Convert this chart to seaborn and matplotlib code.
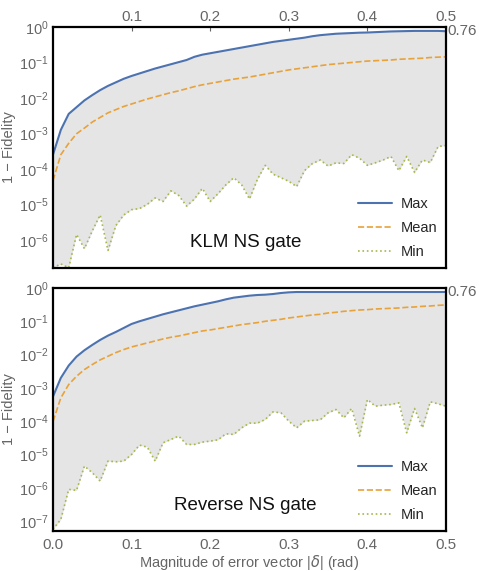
"""Fidelity vs error vector magnitude for the KLM NS gate and the reverse NS gate."""
import numpy as np
import pandas as pd
import seaborn as sns
import matplotlib
matplotlib.use("Agg")
import matplotlib.pyplot as plt

# eixo x: magnitude do vetor de erro (rad)
delta = np.round(np.arange(0, 0.501, 0.01), 2)

# valores em log10(1 - fidelidade)
klm_max = [-3.6, -2.9, -2.45, -2.26, -2.07, -1.92, -1.78, -1.66, -1.56, -1.46,
           -1.38, -1.31, -1.24, -1.17, -1.11, -1.05, -0.99, -0.93, -0.84, -0.78,
           -0.74, -0.70, -0.66, -0.62, -0.58, -0.54, -0.50, -0.46, -0.42, -0.39,
           -0.36, -0.33, -0.30, -0.26, -0.23, -0.21, -0.19, -0.18, -0.17, -0.16,
           -0.155, -0.145, -0.135, -0.125, -0.12, -0.115, -0.11, -0.11, -0.11, -0.11,
           -0.119]
klm_mean = [-4.33, -3.6, -3.28, -3.01, -2.85, -2.68, -2.55, -2.42, -2.33, -2.24,
            -2.17, -2.10, -2.03, -1.97, -1.91, -1.85, -1.80, -1.74, -1.68, -1.63,
            -1.59, -1.55, -1.51, -1.47, -1.44, -1.41, -1.37, -1.33, -1.29, -1.25,
            -1.21, -1.18, -1.15, -1.12, -1.09, -1.06, -1.04, -1.02, -1.00, -0.98,
            -0.96, -0.95, -0.94, -0.93, -0.91, -0.90, -0.89, -0.88, -0.86, -0.85,
            -0.84]
klm_min = [-6.79, -6.68, -6.79, -5.85, -6.25, -5.75, -5.3, -6.3, -5.6, -5.3,
           -5.15, -5.12, -5.0, -4.82, -4.92, -4.62, -4.75, -5.05, -4.85, -4.55,
           -4.92, -4.7, -4.45, -4.25, -4.45, -4.85, -4.3, -3.9, -4.15, -4.25,
           -4.35, -4.5, -4.05, -3.85, -3.75, -3.92, -3.83, -3.85, -3.6, -3.7,
           -3.9, -3.83, -3.75, -3.65, -4.05, -3.65, -4.1, -3.75, -3.82, -3.37,
           -3.34]

rev_max = [-3.26, -2.7, -2.33, -2.06, -1.87, -1.71, -1.56, -1.43, -1.32, -1.20,
           -1.08, -1.00, -0.93, -0.86, -0.79, -0.73, -0.67, -0.61, -0.55, -0.50,
           -0.45, -0.40, -0.34, -0.29, -0.26, -0.23, -0.21, -0.20, -0.18, -0.15,
           -0.13, -0.12, -0.12, -0.12, -0.12, -0.12, -0.12, -0.12, -0.12, -0.12,
           -0.12, -0.12, -0.12, -0.12, -0.12, -0.12, -0.12, -0.12, -0.12, -0.12,
           -0.119]
rev_mean = [-4.01, -3.3, -2.9, -2.65, -2.45, -2.3, -2.16, -2.05, -1.94, -1.85,
            -1.77, -1.71, -1.65, -1.59, -1.53, -1.48, -1.44, -1.39, -1.34, -1.29,
            -1.26, -1.22, -1.18, -1.14, -1.10, -1.07, -1.04, -1.00, -0.97, -0.94,
            -0.90, -0.87, -0.84, -0.81, -0.79, -0.75, -0.73, -0.70, -0.68, -0.66,
            -0.65, -0.63, -0.62, -0.61, -0.60, -0.58, -0.57, -0.55, -0.54, -0.52,
            -0.51]
rev_min = [-7.25, -6.95, -6.05, -6.08, -5.35, -5.55, -5.8, -5.2, -5.22, -5.2,
           -5.0, -4.72, -4.78, -5.2, -4.65, -4.55, -4.45, -4.7, -4.7, -4.63,
           -4.6, -4.56, -4.38, -4.4, -4.2, -4.06, -4.06, -3.95, -3.72, -3.75,
           -4.0, -4.2, -4.0, -3.98, -3.96, -3.75, -3.65, -3.9, -3.62, -4.45,
           -3.35, -3.55, -3.52, -3.5, -3.45, -4.35, -3.62, -4.2, -3.42, -3.48,
           -3.55]

panel_titles = ["KLM NS gate", "Reverse NS gate"]
x_ticks = [0.0, 0.1, 0.2, 0.3, 0.4, 0.5]
end_value = 0.76

sns.set_theme(style="white")
plt.rcParams['font.family'] = ['Liberation Sans', 'DejaVu Sans']

cores = {"Max": "#4c72b0", "Mean": "#e8a23a", "Min": "#a6b84c"}
estilos = {"Max": "-", "Mean": "--", "Min": ":"}
cinza = "#666666"

fig = plt.figure(figsize=(4.79, 5.71), dpi=100)
ax_top = fig.add_axes([0.1106, 0.5306, 0.8205, 0.4221])
ax_bot = fig.add_axes([0.1106, 0.0700, 0.8205, 0.4256])

paineis = [
    (ax_top, klm_max, klm_mean, klm_min, (1.6e-7, 1.0)),
    (ax_bot, rev_max, rev_mean, rev_min, (5e-8, 1.0)),
]

for i, (ax, s_max, s_mean, s_min, ylim) in enumerate(paineis):
    df = pd.DataFrame({"delta": delta,
                       "Max": 10 ** np.array(s_max),
                       "Mean": 10 ** np.array(s_mean),
                       "Min": 10 ** np.array(s_min)})
    ax.fill_between(df["delta"], df["Min"], df["Max"], color="#e5e5e5", lw=0)
    for nome in ["Max", "Mean", "Min"]:
        sns.lineplot(data=df, x="delta", y=nome, ax=ax, color=cores[nome],
                     linestyle=estilos[nome], lw=1.5 if nome == "Max" else 1.2,
                     label=nome)
    ax.set_yscale("log")
    ax.set_xlim(0, 0.5)
    ax.set_ylim(*ylim)
    ax.yaxis.set_minor_locator(matplotlib.ticker.NullLocator())
    ax.set_ylabel("1 \u2212 Fidelity", color=cinza, fontsize=10.5)
    ax.yaxis.set_label_coords(-0.095, 0.5)
    ax.set_xlabel("")
    for sp in ax.spines.values():
        sp.set_color("black")
        sp.set_linewidth(1.6)
    ax.tick_params(axis="y", labelsize=10.5, colors=cinza, length=0, pad=3)
    ax.tick_params(axis="x", labelsize=11, colors=cinza, direction="in",
                   length=3, width=0.8, pad=5)
    ax.text(1.004, end_value, "0.76", transform=ax.get_yaxis_transform(),
            color=cinza, fontsize=11, va="center", ha="left")
    ax.text(0.49, 0.105, panel_titles[i], transform=ax.transAxes,
            fontsize=13.5, color="#111111", ha="center", va="center")
    ax.legend(loc="lower right", frameon=False, fontsize=10.5,
              handlelength=2.3, labelspacing=0.7, borderaxespad=0.2,
              handletextpad=0.6, bbox_to_anchor=(1.0, 0.0))

ax_top.xaxis.tick_top()
ax_top.set_xticks(x_ticks[1:])
ax_top.set_xticklabels([f"{t:.1f}" for t in x_ticks[1:]])
ax_top.tick_params(axis="x", pad=2)
ax_bot.set_xticks(x_ticks)
ax_bot.set_xticklabels([f"{t:.1f}" for t in x_ticks])
ax_bot.set_xlabel("Magnitude of error vector |$\\delta$| (rad)", color=cinza,
                  fontsize=10.5)
ax_bot.xaxis.set_label_coords(0.5, -0.09)

fig.savefig("out.png", dpi=100)
